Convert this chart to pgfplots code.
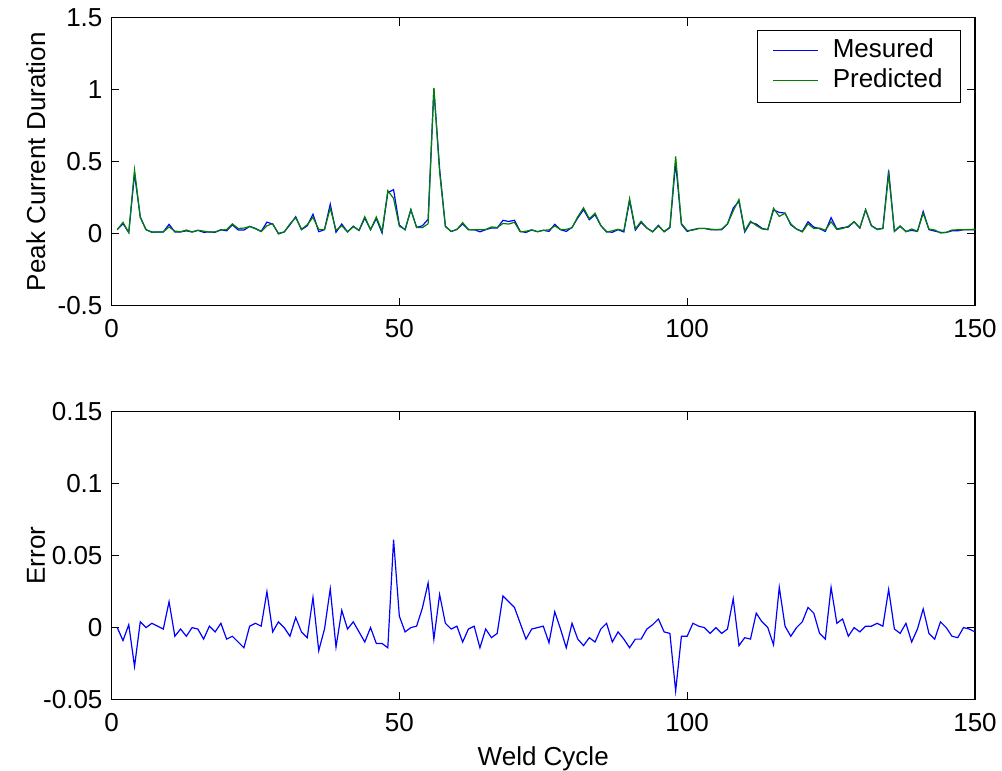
\documentclass[border=0pt]{standalone}
\usepackage{fontspec}
\setmainfont{Liberation Sans}
\usepackage{pgfplots}
\usepackage{pgfplotstable}
\pgfplotsset{compat=1.18}

\definecolor{mblue}{rgb}{0,0,1}
\definecolor{mgreen}{rgb}{0,0.5,0}

% x = weld cycle, M = measured, P = predicted, E = error
\pgfplotstableread{
x M P E
1 0.028 0.028 0.000
2 0.070 0.079 -0.009
3 0.009 0.007 0.002
4 0.416 0.443 -0.027
5 0.116 0.112 0.004
6 0.028 0.028 0.000
7 0.012 0.009 0.003
8 0.012 0.011 0.001
9 0.012 0.013 -0.001
10 0.065 0.047 0.018
11 0.012 0.018 -0.006
12 0.012 0.013 -0.001
13 0.020 0.026 -0.006
14 0.012 0.012 0.000
15 0.023 0.024 -0.001
16 0.010 0.018 -0.008
17 0.012 0.011 0.001
18 0.010 0.013 -0.003
19 0.028 0.025 0.003
20 0.020 0.028 -0.008
21 0.062 0.068 -0.006
22 0.026 0.036 -0.010
23 0.025 0.039 -0.014
24 0.051 0.050 0.001
25 0.037 0.034 0.003
26 0.016 0.015 0.001
27 0.080 0.055 0.025
28 0.067 0.070 -0.003
29 0.002 -0.002 0.004
30 0.012 0.012 0.000
31 0.062 0.068 -0.006
32 0.118 0.111 0.007
33 0.028 0.031 -0.003
34 0.055 0.062 -0.007
35 0.135 0.114 0.021
36 0.014 0.030 -0.016
37 0.028 0.029 -0.001
38 0.205 0.178 0.027
39 0.010 0.024 -0.0135
40 0.067 0.055 0.012
41 0.012 0.013 -0.001
42 0.052 0.048 0.004
43 0.022 0.025 -0.003
44 0.108 0.118 -0.010
45 0.028 0.028 0.000
46 0.105 0.116 -0.011
47 0.005 0.016 -0.011
48 0.285 0.299 -0.014
49 0.306 0.245 0.061
50 0.060 0.052 0.008
51 0.027 0.030 -0.003
52 0.167 0.167 0.000
53 0.044 0.043 0.001
54 0.055 0.042 0.0135
55 0.100 0.069 0.031
56 1.005 1.013 -0.008
57 0.450 0.427 0.023
58 0.052 0.049 0.003
59 0.015 0.016 -0.001
60 0.030 0.029 0.001
61 0.067 0.077 -0.010
62 0.028 0.029 -0.001
63 0.028 0.027 0.001
64 0.013 0.027 -0.014
65 0.028 0.029 -0.001
66 0.040 0.047 -0.007
67 0.039 0.043 -0.004
68 0.093 0.071 0.022
69 0.085 0.067 0.018
70 0.093 0.079 0.014
71 0.016 0.013 0.003
72 0.009 0.017 -0.008
73 0.026 0.027 -0.001
74 0.014 0.014 0.000
75 0.024 0.023 0.001
76 0.016 0.027 -0.0105
77 0.065 0.054 0.011
78 0.028 0.029 -0.001
79 0.016 0.030 -0.014
80 0.044 0.041 0.003
81 0.110 0.118 -0.008
82 0.167 0.180 -0.0125
83 0.097 0.104 -0.007
84 0.132 0.142 -0.010
85 0.056 0.057 -0.001
86 0.014 0.011 0.003
87 0.010 0.020 -0.010
88 0.028 0.031 -0.003
89 0.012 0.020 -0.008
90 0.230 0.244 -0.014
91 0.025 0.033 -0.008
92 0.078 0.086 -0.008
93 0.039 0.040 -0.001
94 0.014 0.012 0.002
95 0.058 0.052 0.006
96 0.013 0.016 -0.003
97 0.042 0.046 -0.004
98 0.493 0.537 -0.044
99 0.065 0.071 -0.006
100 0.016 0.022 -0.006
101 0.028 0.025 0.003
102 0.037 0.036 0.001
103 0.037 0.037 0.000
104 0.028 0.032 -0.004
105 0.028 0.028 0.000
106 0.028 0.032 -0.004
107 0.067 0.068 -0.001
108 0.178 0.158 0.020
109 0.225 0.238 -0.0125
110 0.012 0.019 -0.007
111 0.079 0.087 -0.008
112 0.067 0.057 0.010
113 0.037 0.033 0.004
114 0.028 0.028 0.000
115 0.165 0.177 -0.012
116 0.148 0.120 0.028
117 0.143 0.142 0.001
118 0.062 0.068 -0.006
119 0.032 0.032 0.000
120 0.016 0.012 0.004
121 0.083 0.069 0.014
122 0.046 0.036 0.010
123 0.035 0.039 -0.004
124 0.016 0.024 -0.008
125 0.111 0.083 0.028
126 0.032 0.029 0.003
127 0.042 0.036 0.006
128 0.046 0.052 -0.006
129 0.083 0.083 0.000
130 0.039 0.042 -0.003
131 0.167 0.166 0.001
132 0.056 0.055 0.001
133 0.032 0.029 0.003
134 0.037 0.036 0.001
135 0.440 0.413 0.0265
136 0.016 0.017 -0.001
137 0.051 0.055 -0.004
138 0.016 0.013 0.003
139 0.023 0.033 -0.010
140 0.016 0.017 -0.001
141 0.155 0.142 0.013
142 0.028 0.032 -0.004
143 0.018 0.026 -0.008
144 0.009 0.005 0.004
145 0.009 0.009 0.000
146 0.020 0.026 -0.006
147 0.020 0.027 -0.007
148 0.028 0.028 0.000
149 0.028 0.029 -0.001
150 0.028 0.031 -0.003
}\weld

\begin{document}
\fontsize{13}{15.6}\selectfont
\begin{tikzpicture}
\useasboundingbox (-55.75pt,-232.65pt) rectangle (445.25pt,152.85pt);
\pgfplotsset{
  matlab/.style={
    scale only axis,
    width=431.75pt, height=144pt,
    xmin=0, xmax=150,
    xtick={0,50,100,150},
    xticklabels={0,50,100,150},
    tick align=inside,
    tick pos=both,
    major tick length=4pt,
    axis line style={line width=0.7pt},
    every tick/.style={black, line width=0.6pt},
    tick label style={font=\fontsize{13}{15.6}\selectfont},
    xticklabel style={anchor=base, yshift=-15.7pt},
    label style={font=\fontsize{13}{15.6}\selectfont},
    every axis y label/.style={at={(axis description cs:-0.0875,0.5)}, rotate=90, anchor=center},
    every axis x label/.style={at={(axis description cs:0.5,0)}, anchor=base, yshift=-33pt},
    /pgf/number format/assume math mode=true,
  }
}

\begin{axis}[
  matlab,
  at={(0pt,0pt)}, anchor=south west,
  ymin=-0.5, ymax=1.5,
  ytick={-0.5,0,0.5,1,1.5},
  yticklabels={-0.5,0,0.5,1,1.5},
  ylabel={Peak Current Duration},
  legend style={
    at={(rel axis cs:0.9838,0.959)}, anchor=north east,
    inner xsep=7.5pt, inner ysep=4.5pt,
    row sep=3pt,
    font=\fontsize{13}{15.6}\selectfont,
    nodes={inner xsep=1.5pt, inner ysep=0pt, text height=9.5pt, text depth=2.5pt},
    cells={anchor=west},
    /tikz/every odd column/.append style={column sep=5.5pt},
  },
  legend image code/.code={\draw[#1, line width=0.5pt] (0pt,0pt) -- (22.5pt,0pt);},
]
\addplot[mblue, line width=0.6pt] table[x=x, y=M] {\weld};
\addlegendentry{Mesured}
\addplot[mgreen, line width=0.6pt] table[x=x, y=P] {\weld};
\addlegendentry{Predicted}
\end{axis}

\begin{axis}[
  matlab,
  at={(0pt,-196.95pt)}, anchor=south west,
  ymin=-0.05, ymax=0.15,
  ytick={-0.05,0,0.05,0.1,0.15},
  yticklabels={-0.05,0,0.05,0.1,0.15},
  ylabel={Error},
  xlabel={Weld Cycle},
]
\addplot[mblue, line width=0.6pt] table[x=x, y=E] {\weld};
\end{axis}
\end{tikzpicture}
\end{document}
